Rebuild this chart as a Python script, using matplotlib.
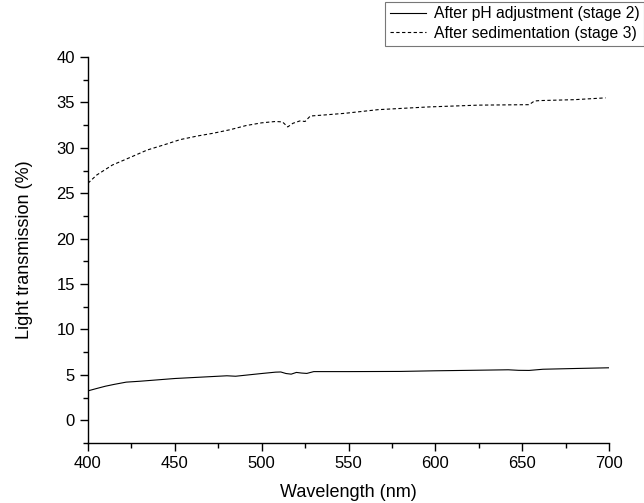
import matplotlib
matplotlib.use("Agg")
import matplotlib.pyplot as plt
from matplotlib.ticker import MultipleLocator

plt.rcParams['font.family'] = ['Liberation Sans', 'DejaVu Sans']

# stage 2 : after pH adjustment
wl_s2 = [400, 405, 410, 415, 422, 430, 440, 450, 460, 470, 480, 485, 490, 500,
         508, 511, 514, 517, 520, 523, 526, 530, 550, 580, 600, 620, 642, 648,
         654, 662, 680, 700]
tr_s2 = [3.24, 3.5, 3.75, 3.95, 4.2, 4.3, 4.45, 4.6, 4.7, 4.8, 4.9, 4.85, 4.95,
         5.15, 5.3, 5.32, 5.15, 5.08, 5.27, 5.2, 5.16, 5.36, 5.36, 5.38, 5.45,
         5.5, 5.56, 5.5, 5.49, 5.62, 5.7, 5.78]

# stage 3 : after sedimentation
wl_s3 = [400, 405, 414, 425, 434, 445, 453, 463, 472, 482, 491, 500, 508, 512,
         515, 518, 522, 525, 528, 535, 548, 567, 596, 625, 654, 657, 660, 680, 698]
tr_s3 = [26.1, 27.0, 28.1, 29.0, 29.75, 30.4, 30.9, 31.3, 31.6, 32.0, 32.45,
         32.75, 32.9, 32.85, 32.3, 32.7, 32.96, 32.9, 33.5, 33.6, 33.8, 34.2,
         34.5, 34.7, 34.75, 35.15, 35.2, 35.3, 35.5]

fig = plt.figure(figsize=(6.44, 5.03), dpi=100)
ax = fig.add_axes([0.1366, 0.1193, 0.8091, 0.7674])

ax.plot(wl_s2, tr_s2, color='black', lw=0.8, label='After pH adjustment (stage 2)')
ax.plot(wl_s3, tr_s3, color='black', lw=0.8, dashes=(3, 2.2),
        label='After sedimentation (stage 3)')

ax.set_xlim(400, 700)
ax.set_ylim(-2.5, 40)
ax.xaxis.set_major_locator(MultipleLocator(50))
ax.xaxis.set_minor_locator(MultipleLocator(25))
ax.yaxis.set_major_locator(MultipleLocator(5))
ax.yaxis.set_minor_locator(MultipleLocator(2.5))
ax.set_yticks(range(0, 41, 5))

for s in ['top', 'right']:
    ax.spines[s].set_visible(False)
for s in ['left', 'bottom']:
    ax.spines[s].set_linewidth(1.0)

ax.tick_params(which='major', direction='out', length=6, width=1.0, labelsize=12)
ax.tick_params(which='minor', direction='out', length=3.5, width=1.0)

ax.set_xlabel('Wavelength (nm)', fontsize=13, labelpad=9)
ax.set_ylabel('Light transmission (%)', fontsize=13, labelpad=17)

leg = fig.legend(loc='upper right', bbox_to_anchor=(1.0, 0.997), fontsize=11.3,
                 frameon=True, fancybox=False, handlelength=2.3, handletextpad=0.5,
                 borderpad=0.3, labelspacing=0.3, borderaxespad=0.0)
leg.get_frame().set_edgecolor('#555555')
leg.get_frame().set_linewidth(0.8)

fig.savefig('out.png', dpi=100)
